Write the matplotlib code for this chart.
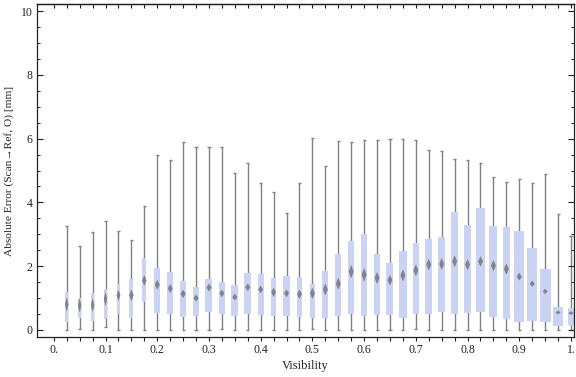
import numpy as np
import matplotlib
matplotlib.use("Agg")
import matplotlib.pyplot as plt
from matplotlib.patches import Polygon
from matplotlib.ticker import MultipleLocator, FixedLocator

plt.rcParams['font.family'] = ['Liberation Serif', 'DejaVu Serif']

# ---------------- data ----------------
visibility = [0.025, 0.05, 0.075, 0.1, 0.125, 0.15, 0.175, 0.2, 0.225, 0.25,
              0.275, 0.3, 0.325, 0.35, 0.375, 0.4, 0.425, 0.45, 0.475, 0.5,
              0.525, 0.55, 0.575, 0.6, 0.625, 0.65, 0.675, 0.7, 0.725, 0.75,
              0.775, 0.8, 0.825, 0.85, 0.875, 0.9, 0.925, 0.95, 0.975, 1.0]

whisker_low = [0.0, 0.03, 0.0, 0.08, 0.0, 0.0, 0.0, 0.0, 0.0, 0.0,
               0.0, 0.0, 0.03, 0.0, 0.0, 0.0, 0.0, 0.0, 0.0, 0.03,
               0.0, 0.0, 0.0, 0.0, 0.0, 0.0, 0.0, 0.03, 0.0, 0.0,
               0.0, 0.0, 0.0, 0.0, 0.0, 0.0, 0.0, 0.0, 0.0, 0.0]

q1 = [0.26, 0.39, 0.29, 0.34, 0.51, 0.39, 0.89, 0.54, 0.51, 0.42,
      0.44, 0.57, 0.51, 0.45, 0.51, 0.48, 0.45, 0.45, 0.42, 0.39,
      0.39, 0.45, 0.51, 0.45, 0.48, 0.48, 0.39, 0.51, 0.51, 0.57,
      0.51, 0.54, 0.57, 0.42, 0.36, 0.26, 0.29, 0.26, 0.13, 0.17]

q3 = [1.19, 1.00, 1.16, 1.29, 1.44, 1.60, 2.25, 1.93, 1.81, 1.54,
      1.35, 1.60, 1.50, 1.41, 1.79, 1.76, 1.63, 1.69, 1.66, 1.45,
      1.85, 2.38, 2.79, 3.01, 2.38, 2.10, 2.48, 2.73, 2.84, 2.91,
      3.69, 3.29, 3.81, 3.26, 3.22, 3.09, 2.56, 1.90, 0.72, 0.69]

whisker_high = [3.26, 2.62, 3.06, 3.41, 3.09, 2.81, 3.89, 5.48, 5.32, 5.88,
                5.73, 5.73, 5.73, 4.91, 5.24, 4.60, 4.32, 3.66, 4.60, 6.01,
                5.13, 5.91, 5.88, 5.95, 5.95, 5.98, 5.98, 5.95, 5.63, 5.60,
                5.35, 5.32, 5.22, 4.79, 4.63, 4.72, 4.60, 4.88, 3.63, 2.94]

mean = [0.80, 0.77, 0.78, 0.97, 1.09, 1.09, 1.55, 1.42, 1.30, 1.13,
        1.00, 1.33, 1.15, 1.03, 1.34, 1.27, 1.18, 1.15, 1.12, 1.15,
        1.27, 1.45, 1.83, 1.73, 1.63, 1.56, 1.71, 1.87, 2.05, 2.07,
        2.15, 2.05, 2.15, 2.02, 1.91, 1.67, 1.45, 1.21, 0.55, 0.53]

mean_ci = [0.20, 0.20, 0.19, 0.20, 0.15, 0.16, 0.15, 0.14, 0.13, 0.12,
           0.10, 0.11, 0.11, 0.10, 0.11, 0.11, 0.13, 0.11, 0.13, 0.16,
           0.17, 0.17, 0.19, 0.20, 0.17, 0.15, 0.17, 0.17, 0.17, 0.17,
           0.17, 0.16, 0.15, 0.16, 0.16, 0.11, 0.09, 0.07, 0.05, 0.05]

# relative group weight (box width as fraction of category spacing)
group_weight = [0.23, 0.23, 0.23, 0.23, 0.26, 0.31, 0.31, 0.46, 0.46, 0.46,
                0.46, 0.54, 0.49, 0.54, 0.54, 0.46, 0.39, 0.54, 0.46, 0.42,
                0.46, 0.46, 0.46, 0.46, 0.46, 0.54, 0.62, 0.46, 0.54, 0.54,
                0.54, 0.54, 0.62, 0.62, 0.54, 0.77, 0.77, 0.85, 0.77, 0.46]

x_tick_values = [0.0, 0.1, 0.2, 0.3, 0.4, 0.5, 0.6, 0.7, 0.8, 0.9, 1.0]
x_tick_labels = ["0.", "0.1", "0.2", "0.3", "0.4", "0.5", "0.6", "0.7", "0.8", "0.9", "1."]
y_tick_values = [0, 2, 4, 6, 8, 10]

# ---------------- style ----------------
box_color = '#cbd3f5'
whisker_color = '#808080'
diamond_color = '#707070'
frame_color = '#222222'
spacing = 0.025

fig = plt.figure(figsize=(5.76, 3.77), dpi=100)
ax = fig.add_axes([36.7 / 576, 40 / 377, (574 - 36.7) / 576, 333 / 377])

x = np.array(visibility)
widths = np.array(group_weight) * spacing

# whiskers
ax.vlines(x, whisker_low, whisker_high, color=whisker_color, lw=1.0, zorder=1)
cap_hw = 0.003
ax.hlines(whisker_high, x - cap_hw, x + cap_hw, color=whisker_color, lw=1.0, zorder=1)
ax.hlines(whisker_low, x - cap_hw, x + cap_hw, color=whisker_color, lw=1.0, zorder=1)

# boxes
ax.bar(x, np.array(q3) - np.array(q1), bottom=q1, width=widths,
       color=box_color, edgecolor='none', zorder=2)

# mean diamonds
px = 1.0 / 517.2  # data units per pixel in x
for xi, m, ci, w in zip(x, mean, mean_ci, widths):
    hw = min(2.2 * px, w / 2)
    poly = Polygon([[xi - hw, m], [xi, m + ci], [xi + hw, m], [xi, m - ci]],
                   closed=True, facecolor=diamond_color, edgecolor=diamond_color,
                   lw=0.3, alpha=0.8, zorder=3)
    ax.add_patch(poly)

ax.set_xlim(-0.0331, 1.0058)
ax.set_ylim(-0.22, 10.22)

for s in ax.spines.values():
    s.set_color(frame_color)
    s.set_linewidth(0.9)

ax.xaxis.set_major_locator(FixedLocator(x_tick_values))
ax.set_xticklabels(x_tick_labels)
ax.xaxis.set_minor_locator(FixedLocator(visibility))
ax.yaxis.set_major_locator(FixedLocator(y_tick_values))
ax.yaxis.set_minor_locator(MultipleLocator(0.5))

ax.tick_params(axis='x', which='both', direction='out', length=3.2, width=0.8,
               color=frame_color, labelsize=8.5, labelcolor='#222222', pad=2)
ax.tick_params(axis='y', which='major', direction='in', length=4, width=0.8,
               color=frame_color, labelsize=8.5, labelcolor='#222222', pad=3,
               right=True)
ax.tick_params(axis='y', which='minor', direction='in', length=2.3, width=0.7,
               color=frame_color, right=True)

top = ax.secondary_xaxis('top')
top.xaxis.set_major_locator(FixedLocator(x_tick_values))
top.xaxis.set_minor_locator(FixedLocator(visibility))
top.tick_params(axis='x', which='both', direction='in', length=3.2, width=0.8,
                color=frame_color, labeltop=False)
top.spines['top'].set_color(frame_color)
top.spines['top'].set_linewidth(0.9)

ax.set_xlabel("Visibility", fontsize=9, color='#222222', labelpad=3)
ax.set_ylabel("Absolute Error (Scan\u2192Ref, O) [mm]", fontsize=8.2, color='#222222', labelpad=5)

fig.savefig("out.png", dpi=100)
